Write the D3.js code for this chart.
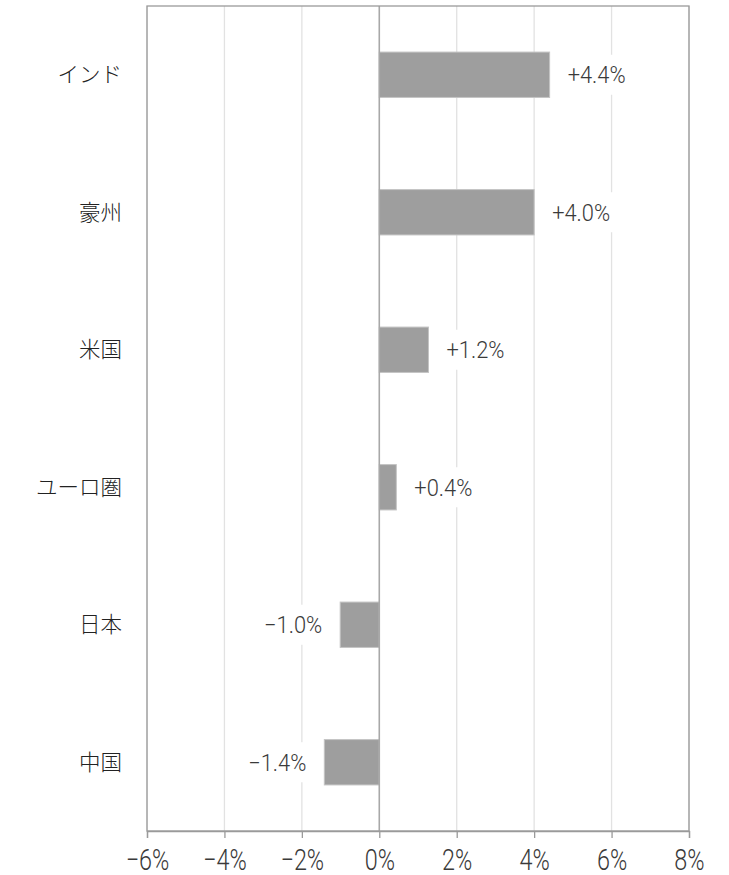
<!DOCTYPE html>
<html>
<head>
<meta charset="utf-8">
<script src="https://cdn.jsdelivr.net/npm/d3@7"></script>
<style>
  body { margin: 0; background: #fff; }
  .num { font-family: Roboto, "DejaVu Sans Condensed", sans-serif; font-weight: 300; fill: #3a3a3a; }
  .cat { font-family: "Noto Sans CJK JP", sans-serif; font-weight: 300; fill: #222; font-size: 21.5px; }
</style>
</head>
<body>
<div class="chart"></div>
<script>
// categories, bar values (%) and the printed labels
var categories = ["インド", "豪州", "米国", "ユーロ圏", "日本", "中国"];
var values = [4.4, 4.0, 1.27, 0.44, -1.01, -1.42];
var valueLabels = ["+4.4%", "+4.0%", "+1.2%", "+0.4%", "\u22121.0%", "\u22121.4%"];
var xTicks = [-6, -4, -2, 0, 2, 4, 6, 8];

var width = 729, height = 875;
var plotLeft = 147, plotRight = 689, plotTop = 6, plotBottom = 831;

var svg = d3.select(".chart").append("svg")
    .attr("width", width)
    .attr("height", height);

var x = d3.scaleLinear().domain([-6, 8]).range([plotLeft, plotRight]);
var y = d3.scaleBand().domain(categories).range([plotTop, plotBottom])
    .paddingInner(0.67).paddingOuter(0.335);

//vertical gridlines
svg.append("g").selectAll("line")
    .data(xTicks.filter(function(d) { return d !== 0; }))
    .enter().append("line")
    .attr("x1", function(d) { return x(d); })
    .attr("x2", function(d) { return x(d); })
    .attr("y1", plotTop)
    .attr("y2", plotBottom)
    .attr("stroke", "#e2e2e2")
    .attr("stroke-width", 1.3);

//white boxes behind value labels, then bars and labels
var labelLayer = svg.append("g");

svg.append("g").selectAll("rect")
    .data(values)
    .enter().append("rect")
    .attr("x", function(d) { return x(Math.min(0, d)); })
    .attr("y", function(d, i) { return y(categories[i]); })
    .attr("width", function(d) { return Math.abs(x(d) - x(0)); })
    .attr("height", y.bandwidth())
    .attr("fill", "#9e9e9e")
    .attr("stroke", "#c4c4c4")
    .attr("stroke-width", 1);

var labelScale = 0.93;
var texts = svg.append("g").selectAll("text")
    .data(values)
    .enter().append("text")
    .attr("class", "num")
    .attr("font-size", 23.5)
    .attr("transform", function(d, i) {
        var tx = d >= 0 ? x(d) + 18 : x(d) - 18;
        var ty = y(categories[i]) + y.bandwidth() / 2;
        return "translate(" + tx + "," + ty + ") scale(" + labelScale + ",1)";
    })
    .attr("dy", "0.36em")
    .attr("text-anchor", function(d) { return d >= 0 ? "start" : "end"; })
    .text(function(d, i) { return valueLabels[i]; });

texts.each(function(d, i) {
    var b = this.getBBox();
    var tx = d >= 0 ? x(d) + 18 : x(d) - 18;
    var cy = y(categories[i]) + y.bandwidth() / 2;
    labelLayer.append("rect")
        .attr("x", tx + b.x * labelScale - 7)
        .attr("y", cy - 20)
        .attr("width", b.width * labelScale + 14)
        .attr("height", 40)
        .attr("fill", "#fff");
});

//zero line
svg.append("line")
    .attr("x1", x(0)).attr("x2", x(0))
    .attr("y1", plotTop).attr("y2", plotBottom)
    .attr("stroke", "#a8a8a8")
    .attr("stroke-width", 1.6);

//frame
svg.append("rect")
    .attr("x", plotLeft).attr("y", plotTop)
    .attr("width", plotRight - plotLeft).attr("height", plotBottom - plotTop)
    .attr("fill", "none")
    .attr("stroke", "#9a9a9a")
    .attr("stroke-width", 1.3);

//category labels
svg.append("g").selectAll("text")
    .data(categories)
    .enter().append("text")
    .attr("class", "cat")
    .attr("x", 122)
    .attr("y", function(d) { return y(d) + y.bandwidth() / 2; })
    .attr("dy", "0.35em")
    .attr("text-anchor", "end")
    .text(function(d) { return d; });

//x axis
var axis = svg.append("g")
    .attr("transform", "translate(0," + plotBottom + ")")
    .call(d3.axisBottom(x)
        .tickValues(xTicks)
        .tickSize(7)
        .tickPadding(11)
        .tickFormat(function(d) { return (d < 0 ? "\u2212" + Math.abs(d) : d) + "%"; }));

axis.select(".domain").attr("stroke", "#9a9a9a").attr("stroke-width", 1.3);
axis.selectAll(".tick line").attr("stroke", "#9a9a9a").attr("stroke-width", 1.3);
axis.selectAll(".tick text")
    .attr("class", "num")
    .attr("font-size", 30)
    .attr("font-family", null)
    .attr("transform", "scale(0.78,1)");
</script>
</body>
</html>
